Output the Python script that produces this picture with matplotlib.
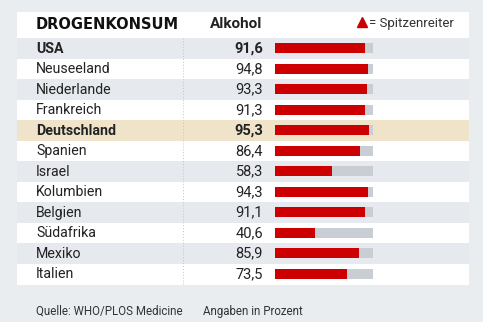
import matplotlib.pyplot as plt
from matplotlib.patches import Rectangle

# Data
countries = ['USA', 'Neuseeland', 'Niederlande', 'Frankreich', 'Deutschland', 'Spanien',
             'Israel', 'Kolumbien', 'Belgien', 'Südafrika', 'Mexiko', 'Italien']
alkohol = [91.6, 94.8, 93.3, 91.3, 95.3, 86.4, 58.3, 94.3, 91.1, 40.6, 85.9, 73.5]
bold_rows = ['USA', 'Deutschland']

bg = '#e9edf0'
band = '#e6e9ed'
beige = '#efe4ca'
red = '#cc0000'
grey_bar = '#c9ced4'
txt = '#222222'
narrow = ['Roboto', 'DejaVu Sans']

W, H = 483, 322
fig = plt.figure(figsize=(W / 100, H / 100), dpi=100)
fig.patch.set_facecolor(bg)

# full-figure axes in pixel coordinates for the table layout
ax = fig.add_axes([0, 0, 1, 1])
ax.set_xlim(0, W)
ax.set_ylim(H, 0)
ax.axis('off')

top, pitch = 38, 20.5
ax.add_patch(Rectangle((17, 12), 452, top + pitch * len(countries) - 12 + 1, color='white', lw=0))
for i, c in enumerate(countries):
    y0 = top + i * pitch
    if c == 'Deutschland':
        ax.add_patch(Rectangle((17, y0), 452, pitch, color=beige, lw=0))
    elif i % 2 == 0:
        ax.add_patch(Rectangle((17, y0), 452, pitch, color=band, lw=0))
    w = 'bold' if c in bold_rows else 'normal'
    yc = y0 + pitch / 2 + 0.5
    ax.text(36, yc, c, family=narrow, fontsize=10.2, fontweight=w, color=txt, va='center')
    ax.text(263, yc, f'{alkohol[i]:.1f}'.replace('.', ','), family=narrow, fontsize=10.5,
            fontweight=w, color=txt, va='center', ha='right')

ax.plot([183, 183], [top, top + pitch * len(countries)], color='#c0c5ca', lw=0.7, ls=(0, (1, 2)))

# header
ax.text(36, 24, 'DROGENKONSUM', family='DejaVu Sans', fontsize=10.5, fontweight='heavy',
        color='#111111', va='center')
ax.text(262, 24, 'Alkohol', family=narrow, fontsize=11, fontweight='bold', color=txt,
        va='center', ha='right')
ax.plot([362], [22], marker='^', color=red, markersize=7, ls='none')
ax.text(369, 23, '= Spitzenreiter', family=narrow, fontsize=9.5, color='#333333', va='center')

# footer
ax.text(36, 311, 'Quelle: WHO/PLOS Medicine', family=narrow, fontsize=8.3, color='#333333', va='center')
ax.text(203, 311, 'Angaben in Prozent', family=narrow, fontsize=8.3, color='#333333', va='center')

# bars
bottom_px = top + pitch * len(countries)
bx = fig.add_axes([275 / W, 1 - bottom_px / H, 98.3 / W, (bottom_px - top) / H])
bx.set_xlim(0, 100)
bx.set_ylim(len(countries), 0)
bx.axis('off')
ypos = [i + 0.5 for i in range(len(countries))]
bx.barh(ypos, [100] * len(countries), height=0.47, color=grey_bar, lw=0)
bx.barh(ypos, alkohol, height=0.47, color=red, lw=0)

fig.savefig('out.png', dpi=100, facecolor=bg)
